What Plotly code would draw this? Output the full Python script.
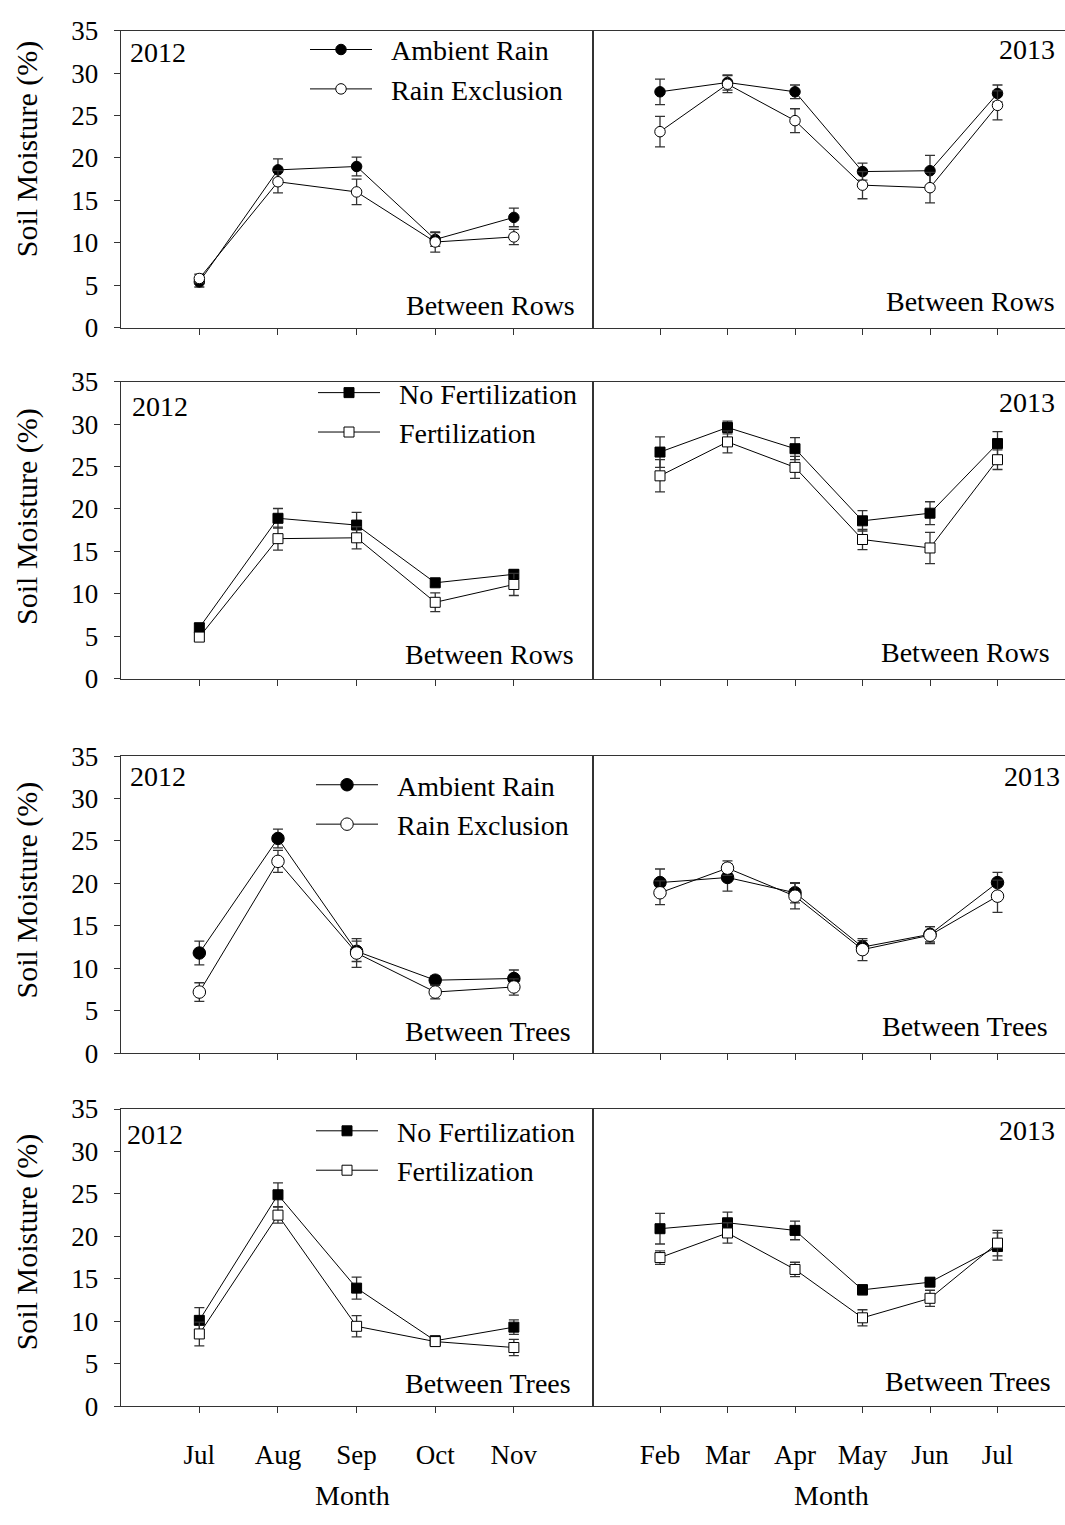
import plotly.graph_objects as go

# ---------------- data ----------------
months_2012 = ["Jul", "Aug", "Sep", "Oct", "Nov"]
months_2013 = ["Feb", "Mar", "Apr", "May", "Jun", "Jul"]
y_ticks = [0, 5, 10, 15, 20, 25, 30, 35]

# Between rows - rain treatment
br_rain_2012_ambient = [5.4, 18.6, 19.0, 10.4, 13.0]
br_rain_2012_ambient_se = [0.6, 1.3, 1.1, 0.8, 1.1]
br_rain_2012_excl = [5.8, 17.2, 16.0, 10.1, 10.7]
br_rain_2012_excl_se = [0.5, 1.3, 1.5, 1.2, 0.9]
br_rain_2013_ambient = [27.8, 28.9, 27.8, 18.4, 18.5, 27.6]
br_rain_2013_ambient_se = [1.5, 0.9, 0.8, 1.0, 1.8, 1.0]
br_rain_2013_excl = [23.1, 28.7, 24.4, 16.8, 16.5, 26.2]
br_rain_2013_excl_se = [1.8, 1.0, 1.4, 1.6, 1.8, 1.7]

# Between rows - fertilization treatment
br_fert_2012_nofert = [6.0, 18.9, 18.1, 11.3, 12.3]
br_fert_2012_nofert_se = [0.5, 1.15, 1.5, 0.4, 0.5]
br_fert_2012_fert = [4.9, 16.5, 16.6, 9.0, 11.1]
br_fert_2012_fert_se = [0.4, 1.35, 1.3, 1.1, 1.3]
br_fert_2013_nofert = [26.7, 29.6, 27.1, 18.6, 19.5, 27.7]
br_fert_2013_nofert_se = [1.8, 0.75, 1.3, 1.2, 1.35, 1.4]
br_fert_2013_fert = [23.9, 27.9, 24.9, 16.4, 15.4, 25.8]
br_fert_2013_fert_se = [1.9, 1.3, 1.3, 1.2, 1.85, 1.15]

# Between trees - rain treatment
bt_rain_2012_ambient = [11.8, 25.3, 12.0, 8.6, 8.8]
bt_rain_2012_ambient_se = [1.4, 1.1, 1.2, 0.5, 1.0]
bt_rain_2012_excl = [7.2, 22.6, 11.8, 7.2, 7.8]
bt_rain_2012_excl_se = [1.1, 1.3, 1.7, 0.8, 0.95]
bt_rain_2013_ambient = [20.1, 20.7, 18.9, 12.5, 14.0, 20.1]
bt_rain_2013_ambient_se = [1.6, 1.6, 1.2, 0.75, 0.9, 1.2]
bt_rain_2013_excl = [18.9, 21.8, 18.5, 12.2, 13.9, 18.5]
bt_rain_2013_excl_se = [1.4, 0.85, 1.5, 1.3, 1.0, 1.9]

# Between trees - fertilization treatment
bt_fert_2012_nofert = [10.1, 24.9, 13.9, 7.7, 9.3]
bt_fert_2012_nofert_se = [1.5, 1.4, 1.3, 0.5, 0.85]
bt_fert_2012_fert = [8.5, 22.5, 9.4, 7.6, 6.9]
bt_fert_2012_fert_se = [1.4, 0.95, 1.25, 0.5, 0.95]
bt_fert_2013_nofert = [20.9, 21.6, 20.7, 13.7, 14.6, 18.8]
bt_fert_2013_nofert_se = [1.8, 1.25, 1.1, 0.6, 0.5, 1.6]
bt_fert_2013_fert = [17.5, 20.4, 16.1, 10.4, 12.7, 19.2]
bt_fert_2013_fert_se = [0.8, 1.2, 0.85, 0.95, 0.95, 1.5]

rain_names = ["Ambient Rain", "Rain Exclusion"]
fert_names = ["No Fertilization", "Fertilization"]

# ---------------- layout geometry (pixels) ----------------
W, H = 1065, 1525
FONT = "Liberation Serif, Times New Roman, serif"
FS = 28
ROW_PX = [(16, 319), (374, 677), (756, 1059), (1116, 1419)]
COL_PX = [(120.7, 592.5), (592.5, 1065)]
AX_COLOR = "#333333"
LEGEND_PAD = "\u00a0\u00a0"   # small gap between legend symbol and label


def fx(p):
    return p / W


def fy(p):
    return 1 - p / H


rows = [
    dict(kind="circle", names=rain_names, size=10.5, site="Between Rows",
         series=[(br_rain_2012_ambient, br_rain_2012_ambient_se, br_rain_2012_excl, br_rain_2012_excl_se),
                 (br_rain_2013_ambient, br_rain_2013_ambient_se, br_rain_2013_excl, br_rain_2013_excl_se)]),
    dict(kind="square", names=fert_names, size=10, site="Between Rows",
         series=[(br_fert_2012_nofert, br_fert_2012_nofert_se, br_fert_2012_fert, br_fert_2012_fert_se),
                 (br_fert_2013_nofert, br_fert_2013_nofert_se, br_fert_2013_fert, br_fert_2013_fert_se)]),
    dict(kind="circle", names=rain_names, size=12.5, site="Between Trees",
         series=[(bt_rain_2012_ambient, bt_rain_2012_ambient_se, bt_rain_2012_excl, bt_rain_2012_excl_se),
                 (bt_rain_2013_ambient, bt_rain_2013_ambient_se, bt_rain_2013_excl, bt_rain_2013_excl_se)]),
    dict(kind="square", names=fert_names, size=10, site="Between Trees",
         series=[(bt_fert_2012_nofert, bt_fert_2012_nofert_se, bt_fert_2012_fert, bt_fert_2012_fert_se),
                 (bt_fert_2013_nofert, bt_fert_2013_nofert_se, bt_fert_2013_fert, bt_fert_2013_fert_se)]),
]

# label placements within each row: (x, y) in pixels
year_left_px = [(128, 38), (130, 399), (128, 777), (125, 1142)]
year_right_px = [(1057, 35), (1057, 395), (1062, 777), (1057, 1138)]
site_left_px = [(577, 296), (576, 652), (573, 1037), (573, 1396)]
site_right_px = [(1057, 292), (1052, 650), (1050, 1032), (1053, 1394)]
ytitle_px = [137, 512, 893, 1252]
legend_px = [(305, 10), (313, 360), (311, 760), (311, 1113)]

fig = go.Figure()
layout = dict(
    width=W, height=H,
    margin=dict(l=0, r=0, t=0, b=0),
    paper_bgcolor="white", plot_bgcolor="white",
    font=dict(family=FONT, size=FS, color="black"),
    showlegend=True,
)
annotations = []

for r, row in enumerate(rows):
    for c in range(2):
        k = r * 2 + c + 1
        xa = "x" if k == 1 else f"x{k}"
        ya = "y" if k == 1 else f"y{k}"
        xkey = "xaxis" if k == 1 else f"xaxis{k}"
        ykey = "yaxis" if k == 1 else f"yaxis{k}"
        months = months_2012 if c == 0 else months_2013
        xs = list(range(1, len(months) + 1))
        top, bot = ROW_PX[r]
        left, right = COL_PX[c]

        layout[xkey] = dict(
            domain=[fx(left), fx(right)], anchor=ya,
            range=[0, len(months) + 1],
            tickmode="array", tickvals=xs, ticktext=months,
            showticklabels=(r == 3),
            ticks="outside", ticklen=6, tickwidth=1, tickcolor=AX_COLOR,
            ticklabelstandoff=18,
            tickfont=dict(family=FONT, size=27, color="black"),
            showline=True, linecolor=AX_COLOR, linewidth=1.2, mirror=True,
            showgrid=False, zeroline=False, fixedrange=True,
        )
        layout[ykey] = dict(
            domain=[fy(bot), fy(top)], anchor=xa,
            range=[0, 35],
            tickmode="array", tickvals=y_ticks,
            showticklabels=(c == 0),
            ticks="outside" if c == 0 else "", ticklen=6, tickwidth=1, tickcolor=AX_COLOR,
            ticklabelstandoff=10,
            tickfont=dict(family=FONT, size=27, color="black"),
            showline=True, linecolor=AX_COLOR, linewidth=1.2, mirror=(c == 0),
            showgrid=False, zeroline=False, fixedrange=True,
        )

        filled, filled_se, opened, opened_se = row["series"][c]
        leg = "legend" if r == 0 else f"legend{r + 1}"
        for vals, se, name, fill in ((filled, filled_se, row["names"][0], "black"),
                                     (opened, opened_se, row["names"][1], "white")):
            fig.add_trace(go.Scatter(
                x=xs, y=vals, name=LEGEND_PAD + name, mode="lines+markers",
                xaxis=xa, yaxis=ya,
                line=dict(color="black", width=1),
                marker=dict(symbol=row["kind"], size=row["size"], color=fill,
                            line=dict(color="black", width=1)),
                error_y=dict(type="data", array=se, visible=True,
                             color=AX_COLOR, thickness=1.3, width=5),
                showlegend=(c == 0), legend=leg,
            ))

    # legend for the row
    lx, ly = legend_px[r]
    leg_key = "legend" if r == 0 else f"legend{r + 1}"
    layout[leg_key] = dict(
        x=fx(lx), y=fy(ly), xanchor="left", yanchor="top",
        bgcolor="rgba(0,0,0,0)", borderwidth=0,
        font=dict(family=FONT, size=FS, color="black"),
        itemwidth=62, itemsizing="trace",
        tracegroupgap=0,
    )

    # panel labels
    x0, y0 = year_left_px[r]
    annotations.append(dict(text="2012", x=fx(x0), y=fy(y0), xref="paper", yref="paper",
                            xanchor="left", yanchor="middle", showarrow=False,
                            font=dict(family=FONT, size=FS, color="black")))
    x0, y0 = year_right_px[r]
    annotations.append(dict(text="2013", x=fx(x0), y=fy(y0), xref="paper", yref="paper",
                            xanchor="right", yanchor="middle", showarrow=False,
                            font=dict(family=FONT, size=FS, color="black")))
    for (x0, y0) in (site_left_px[r], site_right_px[r]):
        annotations.append(dict(text=row["site"], x=fx(x0), y=fy(y0), xref="paper", yref="paper",
                                xanchor="right", yanchor="middle", showarrow=False,
                                font=dict(family=FONT, size=FS, color="black")))
    # y-axis title
    annotations.append(dict(text="Soil Moisture (%)", x=fx(27), y=fy(ytitle_px[r]),
                            xref="paper", yref="paper", textangle=-90,
                            xanchor="center", yanchor="middle", showarrow=False,
                            font=dict(family=FONT, size=30, color="black")))

# x-axis titles
for xc in (352.5, 831):
    annotations.append(dict(text="Month", x=fx(xc), y=fy(1510), xref="paper", yref="paper",
                            xanchor="center", yanchor="middle", showarrow=False,
                            font=dict(family=FONT, size=FS, color="black")))

layout["annotations"] = annotations
fig.update_layout(**layout)
fig.write_html("out.html")
